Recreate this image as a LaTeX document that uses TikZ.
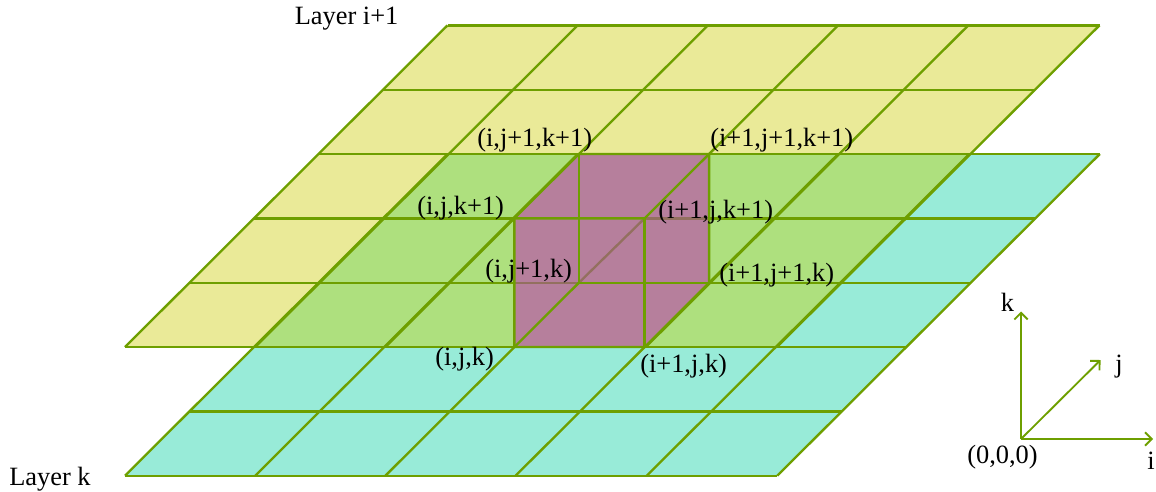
\documentclass[tikz,border=0pt]{standalone}
\usepackage{fontspec}
\setmainfont{Liberation Serif}
\usetikzlibrary{
  arrows.meta,
}
\definecolor{gridLine}{HTML}{6E9F00}
\definecolor{hiddenLine}{HTML}{93705F}
\definecolor{layerUp}{HTML}{EAEA98}
\definecolor{layerLow}{HTML}{98EBD8}
\definecolor{layerBoth}{HTML}{AEE07E}
\definecolor{cubeFill}{HTML}{B67F9C}
\tikzset{
  gridEdge/.style={
    draw=gridLine, line width=1.75pt,
  },
  hiddenEdge/.style={
    draw=hiddenLine, line width=1.75pt,
  },
  axisArrow/.style={
    -{Straight Barb[length=5pt,width=10pt]}, line width=1.4pt, draw=gridLine,
  },
  lbl/.style={
    anchor=base west, inner sep=0pt, font=\fontsize{19.8}{22}\selectfont,
  },
}
\begin{document}
\begin{tikzpicture}[x=0.75pt,y=-0.75pt]
\useasboundingbox (0,0) rectangle (1156,492);

% Grid points of both layers
\foreach \i/\xBase in {0/125,1/255.2,2/385.4,3/515.6,4/646.8,5/777.3}{
  \foreach \j in {0,...,5}{
    \coordinate (low\i\j) at (\xBase+64.5*\j,475.7-64.33*\j);
  }
}
\foreach \i/\xBase in {0/125,1/255.2,2/385.4,3/515.6,4/645.8,5/777}{
  \foreach \j in {0,...,5}{
    \coordinate (up\i\j) at (\xBase+64.5*\j,347-64.33*\j);
  }
}

% Layer fills
\fill[layerLow] (low00) -- (low50) -- (low55) -- (low05) -- cycle;
\fill[layerUp]  (up00) -- (up50) -- (up55) -- (up05) -- cycle;
\fill[layerBoth] (low02) -- (up50) -- (up53) -- (low05) -- cycle;

% Layer grids
\foreach \lay in {low,up}{
  \foreach \n in {0,...,5}{
    \draw[gridEdge] (\lay\n0) -- (\lay\n5);
    \draw[gridEdge] (\lay0\n) -- (\lay5\n);
  }
}

% Cube corners
\coordinate (ijk)    at (low22);
\coordinate (ipjk)   at (low32);
\coordinate (ijpk)   at (low23);
\coordinate (ipjpk)  at (low33);
\coordinate (ijkp)   at (up22);
\coordinate (ipjkp)  at (up32);
\coordinate (ijpkp)  at (up23);
\coordinate (ipjpkp) at (up33);

\fill[cubeFill] (ijk) -- (ijkp) -- (ijpkp) -- (ipjpkp) -- (ipjpk) -- (ipjk) -- cycle;

% Edges seen through the cube
\draw[hiddenEdge] (ipjkp) -- (ijpk);
\draw[hiddenEdge] (ijk |- ijpk) -- (ijpk);
\draw[hiddenEdge] (ipjkp) -- (ipjpk |- ipjkp);

% Edges on top
\draw[gridEdge] (ijk) -- (ijkp) -- (ijpkp) -- (ipjpkp) -- (ipjpk) -- (ipjk) -- cycle;
\draw[gridEdge] (ijpkp) -- (ijpk) -- (ipjpk);
\draw[gridEdge] (ipjkp) -- (ipjk);
\draw[gridEdge] (ijkp) -- (ipjkp) -- (ipjpkp);
\draw[gridEdge] (ijk) -- (ijpk);
\draw[gridEdge] (ijpk -| ipjk) -- (ipjpk);

% Axes
\coordinate (origin) at (1021,439);
\coordinate (iEnd) at (1153,439);
\coordinate (jEnd) at (1100.5,360);
\coordinate (kEnd) at (1021,311.5);
\draw[axisArrow] (origin) -- (iEnd);
\draw[axisArrow] (origin) -- (jEnd);
\draw[axisArrow] (origin) -- (kEnd);

% Labels
\node[lbl] (layerUpLbl)  at (294.5,25)  {Layer i+1};
\node[lbl] (layerLowLbl) at (9,485)     {Layer k};
\node[lbl] (lblIjpkp)    at (477,146)   {(i,j+1,k+1)};
\node[lbl] (lblIpjpkp)   at (710,146)   {(i+1,j+1,k+1)};
\node[lbl] (lblIjkp)     at (417,214)   {(i,j,k+1)};
\node[lbl] (lblIpjkp)    at (658,218)   {(i+1,j,k+1)};
\node[lbl] (lblIjpk)     at (485,277)   {(i,j+1,k)};
\node[lbl] (lblIpjpk)    at (719,281)   {(i+1,j+1,k)};
\node[lbl] (lblIjk)      at (435,365)   {(i,j,k)};
\node[lbl] (lblIpjk)     at (640,372)   {(i+1,j,k)};
\node[lbl] (lblOrigin)   at (967,463)   {(0,0,0)};
\node[lbl] (lblK)        at (1000.5,311) {k};
\node[lbl] (lblJ)        at (1115,372)  {j};
\node[lbl] (lblI)        at (1147,469)  {i};

\end{tikzpicture}
\end{document}
